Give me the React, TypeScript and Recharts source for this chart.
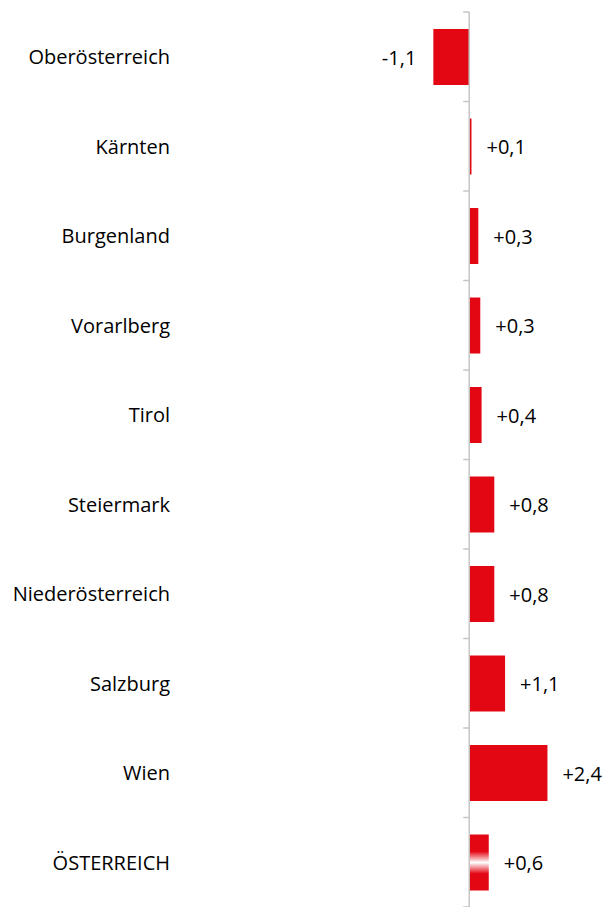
import React from "react";
import {
  BarChart,
  Bar,
  XAxis,
  YAxis,
  Cell,
  LabelList,
  ReferenceLine,
} from "recharts";

const categories = [
  "Oberösterreich",
  "Kärnten",
  "Burgenland",
  "Vorarlberg",
  "Tirol",
  "Steiermark",
  "Niederösterreich",
  "Salzburg",
  "Wien",
  "ÖSTERREICH",
];
const values = [-1.1, 0.07, 0.28, 0.34, 0.38, 0.77, 0.77, 1.1, 2.4, 0.6];
const totalLabel = "ÖSTERREICH";

const data = categories.map((name, i) => ({ name, value: values[i] }));

const W = 609;
const H = 907;
const MARGIN = { top: 12, right: 42, bottom: 0, left: 0 };
const Y_AXIS_W = 404;
const DOMAIN: [number, number] = [-2, 3];
const RED = "#e30613";
const FONT = "Open Sans";
const FONT_SIZE = 20;

const plotW = W - MARGIN.left - MARGIN.right - Y_AXIS_W;
const plotH = H - MARGIN.top - MARGIN.bottom;
const band = plotH / categories.length;
const zeroX =
  MARGIN.left + Y_AXIS_W + ((0 - DOMAIN[0]) / (DOMAIN[1] - DOMAIN[0])) * plotW;

const fmt = (v: number) => (v > 0 ? "+" : "") + v.toFixed(1).replace(".", ",");

function CategoryTick(props: any) {
  const { y, payload } = props;
  const last = payload.index === categories.length - 1;
  return (
    <g>
      <text
        x={170}
        y={y}
        textAnchor="end"
        dominantBaseline="central"
        fontFamily={FONT}
        fontSize={FONT_SIZE}
        fill="#000"
      >
        {payload.value}
      </text>
      <line
        x1={zeroX - 6}
        x2={zeroX}
        y1={y - band / 2}
        y2={y - band / 2}
        stroke="#c6c6c6"
        strokeWidth={1.5}
      />
      {last && (
        <line
          x1={zeroX - 6}
          x2={zeroX}
          y1={y + band / 2}
          y2={y + band / 2}
          stroke="#c6c6c6"
          strokeWidth={1.5}
        />
      )}
    </g>
  );
}

function ValueLabel(props: any) {
  const { x, y, width, height, value } = props;
  const left = Math.min(x, x + width);
  const right = Math.max(x, x + width);
  const neg = value < 0;
  return (
    <text
      x={neg ? left - 17 : right + 15}
      y={y + height / 2}
      textAnchor={neg ? "end" : "start"}
      dominantBaseline="central"
      fontFamily={FONT}
      fontSize={FONT_SIZE}
      fill="#000"
    >
      {fmt(value)}
    </text>
  );
}

export default function App() {
  return (
    <div style={{ position: "absolute", left: 0, top: 0, background: "#fff" }}>
      <BarChart
        width={W}
        height={H}
        data={data}
        layout="vertical"
        margin={MARGIN}
      >
        <defs>
          <linearGradient id="totalGrad" x1="0" y1="0" x2="0" y2="1">
            <stop offset="0" stopColor={RED} />
            <stop offset="0.3" stopColor={RED} />
            <stop offset="0.5" stopColor="#ffffff" />
            <stop offset="0.7" stopColor={RED} />
            <stop offset="1" stopColor={RED} />
          </linearGradient>
        </defs>
        <XAxis type="number" domain={DOMAIN} hide />
        <YAxis
          type="category"
          dataKey="name"
          width={Y_AXIS_W}
          axisLine={false}
          tickLine={false}
          tick={<CategoryTick />}
          interval={0}
        />
        <Bar dataKey="value" barSize={56} isAnimationActive={false}>
          {data.map((d, i) => (
            <Cell key={i} fill={d.name === totalLabel ? "url(#totalGrad)" : RED} />
          ))}
          <LabelList dataKey="value" content={<ValueLabel />} />
        </Bar>
        <ReferenceLine x={0} stroke="#c6c6c6" strokeWidth={1.5} ifOverflow="visible" />
      </BarChart>
    </div>
  );
}
